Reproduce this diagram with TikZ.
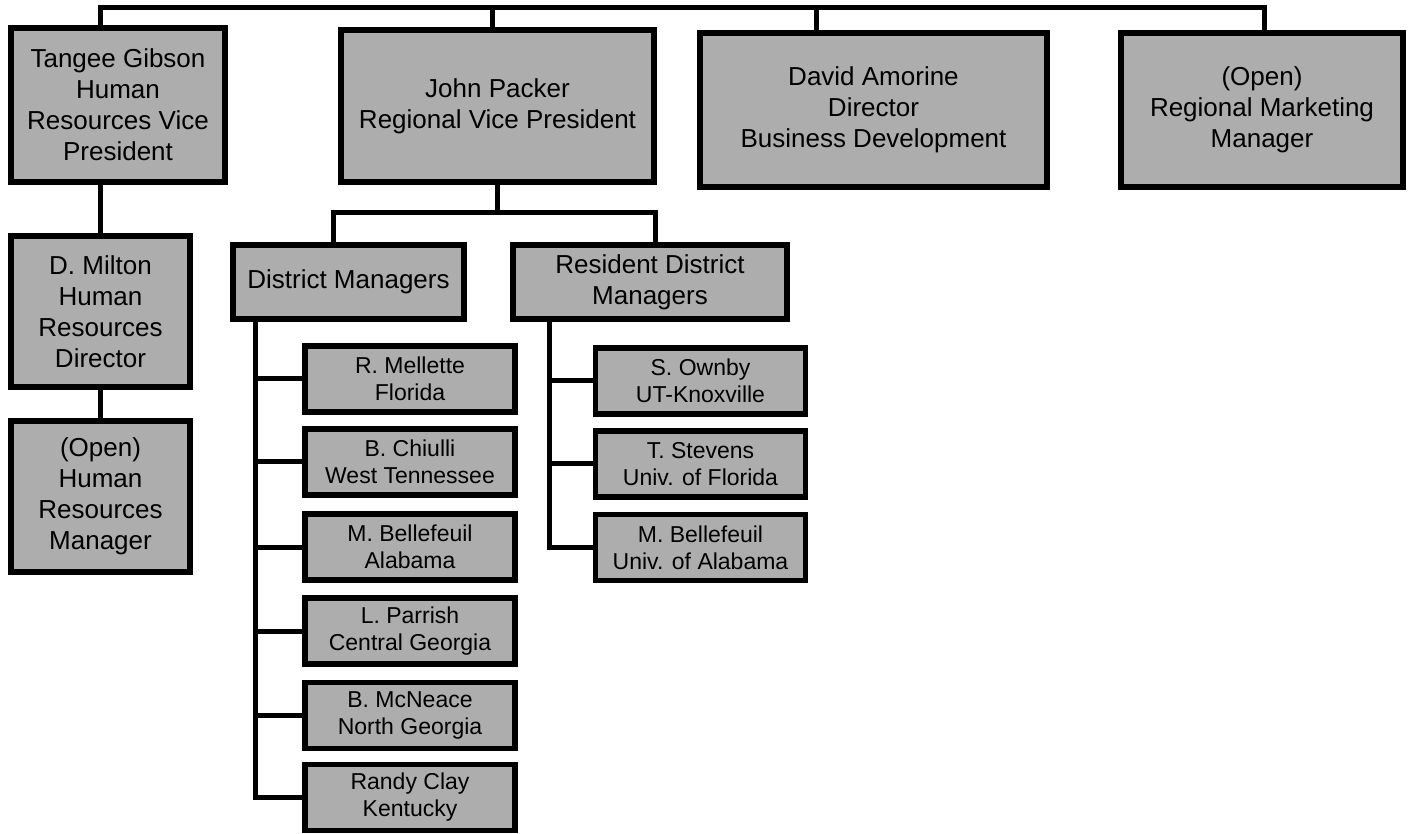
\documentclass[tikz,border=0pt]{standalone}
\usepackage{fontspec}
\setmainfont{Liberation Sans}
\tikzset{
  orgbox/.style={draw=black, line width=2.9pt, fill=black!32, align=center, inner sep=2pt,
    font=\fontsize{13}{15.5}\selectfont},
  subbox/.style={orgbox, font=\fontsize{11.5}{13.5}\selectfont,
    minimum width=105pt, minimum height=33pt},
  link/.style={line width=2.5pt, line cap=rect}
}
\begin{document}
\begin{tikzpicture}[x=0.5pt,y=-0.5pt]
\useasboundingbox (0,0) rectangle (1415,834);
% top row
\node[orgbox, minimum width=107pt, minimum height=77pt] (tgibson) at (118,105) {Tangee Gibson\\Human\\Resources Vice\\President};
\node[orgbox, minimum width=156.5pt, minimum height=76pt] (jpacker) at (497.5,106) {John Packer\\Regional Vice President};
\node[orgbox, minimum width=173.5pt, minimum height=77pt] (damorine) at (873.5,110) {David Amorine\\Director\\Business Development};
\node[orgbox, minimum width=141pt, minimum height=77pt] (rmktmgr) at (1262,110) {(Open)\\Regional Marketing\\Manager};
% human resources
\node[orgbox, minimum width=89.5pt, minimum height=75.5pt] (dmilton) at (100.5,311.5) {D. Milton\\Human\\Resources\\Director};
\node[orgbox, minimum width=89.5pt, minimum height=75.5pt] (hrmgr) at (100.5,496.5) {(Open)\\Human\\Resources\\Manager};
% district groups
\node[orgbox, minimum width=115.5pt, minimum height=37pt] (dmgrs) at (348.5,282) {District Managers};
\node[orgbox, minimum width=137pt, minimum height=37pt] (rdmgrs) at (650,282) {Resident District\\Managers};
% district managers
\node[subbox] (rmellette) at (410,379) {R. Mellette\\Florida};
\node[subbox] (bchiulli) at (410,462) {B. Chiulli\\West Tennessee};
\node[subbox] (mbellefeuil) at (410,547) {M. Bellefeuil\\Alabama};
\node[subbox] (lparrish) at (410,631) {L. Parrish\\Central Georgia};
\node[subbox] (bmcneace) at (410,715.5) {B. McNeace\\North Georgia};
\node[subbox] (rclay) at (410,797.5) {Randy Clay\\Kentucky};
% resident district managers
\node[subbox] (sownby) at (700.5,381) {S. Ownby\\UT-Knoxville};
\node[subbox] (tstevens) at (700.5,464) {T. Stevens\\Univ. of Florida};
\node[subbox] (mbellefeuilua) at (700.5,547.5) {M. Bellefeuil\\Univ. of Alabama};

% connectors
\coordinate (busL) at (100,8);
\coordinate (busR) at (1264,8);
\draw[link] (tgibson.north -| busL) -- (busL) -- (busR) -- (busR |- rmktmgr.north);
\draw[link] ([xshift=-2.75pt]jpacker.north) -- ([xshift=-2.75pt]jpacker.north |- busL);
\draw[link] ([xshift=-28.75pt]damorine.north) -- ([xshift=-28.75pt]damorine.north |- busL);
\draw[link] (dmilton.north) -- (dmilton.north |- tgibson.south);
\draw[link] (hrmgr.north) -- (dmilton.south);
\coordinate (jpfork) at (497.5,213);
\draw[link] (jpacker.south) -- (jpfork);
\draw[link] ([xshift=-7.75pt]dmgrs.north) |- (jpfork);
\draw[link] ([xshift=2.5pt]rdmgrs.north) |- (jpfork);
\coordinate (dmtrunk) at ([xshift=12.75pt]dmgrs.south west);
\foreach \n in {rmellette,bchiulli,mbellefeuil,lparrish,bmcneace,rclay}
  \draw[link] (dmtrunk) |- (\n.west);
\coordinate (rdtrunk) at ([xshift=19.75pt]rdmgrs.south west);
\foreach \n in {sownby,tstevens,mbellefeuilua}
  \draw[link] (rdtrunk) |- (\n.west);
\end{tikzpicture}
\end{document}
